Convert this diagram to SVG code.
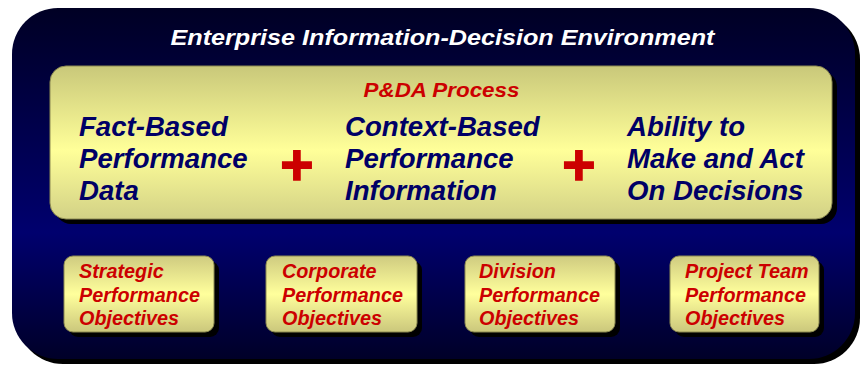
<svg xmlns="http://www.w3.org/2000/svg" width="867" height="366" viewBox="0 0 867 366">
  <defs>
    <linearGradient id="envFill" x1="0" y1="0" x2="0" y2="1">
      <stop offset="0" stop-color="#000024"/>
      <stop offset="0.64" stop-color="#00006e"/>
      <stop offset="1" stop-color="#000028"/>
    </linearGradient>
    <linearGradient id="padFill" x1="0" y1="0" x2="0" y2="1">
      <stop offset="0" stop-color="#c9c87a"/>
      <stop offset="0.55" stop-color="#ffff99"/>
      <stop offset="1" stop-color="#d2d186"/>
    </linearGradient>
    <linearGradient id="tagFill" x1="0" y1="0" x2="0" y2="1">
      <stop offset="0" stop-color="#cfcb80"/>
      <stop offset="0.5" stop-color="#ffff9c"/>
      <stop offset="1" stop-color="#cbc77c"/>
    </linearGradient>
  </defs>
  <style>
    .shadow { fill: #000000; }
    .pad { fill: url(#padFill); stroke: #8c8a52; stroke-width: 1; }
    .tag { fill: url(#tagFill); stroke: #8c8a52; stroke-width: 1; }
    text { font-family: "Liberation Sans", Arial, sans-serif; font-weight: bold; font-style: italic; }
    .title { fill: #ffffff; font-size: 22px; }
    .process { fill: #cc0000; font-size: 20px; }
    .main { fill: #000066; font-size: 27.6px; }
    .obj { fill: #cc0000; font-size: 19.8px; }
    .plus { fill: #cc0000; stroke: #cc0000; stroke-width: 1.4; font-size: 57px; font-style: normal; }
  </style>

  <!-- environment panel -->
  <g id="environment">
    <rect class="shadow" x="17" y="13" width="843" height="351" rx="46"/>
    <rect x="12" y="8" width="843" height="351" rx="46" fill="url(#envFill)"/>
    <text class="title" transform="translate(442.5 45) scale(1.145 1)" text-anchor="middle">Enterprise Information-Decision Environment</text>
  </g>

  <!-- process panel -->
  <g id="process">
    <rect class="shadow" x="55" y="71" width="782" height="153" rx="16"/>
    <rect class="pad" x="50" y="66" width="782" height="153" rx="16"/>
    <text class="process" transform="translate(441.5 97) scale(1.12 1)" text-anchor="middle">P&amp;DA Process</text>
  </g>

  <g id="fact-data">
    <text class="main" x="79" y="136">Fact-Based</text>
    <text class="main" x="79" y="168">Performance</text>
    <text class="main" x="79" y="200">Data</text>
  </g>

  <g id="context-info">
    <text class="main" x="345" y="136">Context-Based</text>
    <text class="main" x="345" y="168">Performance</text>
    <text class="main" x="345" y="200">Information</text>
  </g>

  <g id="act-decisions">
    <text class="main" x="627" y="136">Ability to</text>
    <text class="main" x="627" y="168">Make and Act</text>
    <text class="main" x="627" y="200">On Decisions</text>
  </g>

  <!-- plus operators between the three capabilities -->
  <g id="connectors">
    <text class="plus" x="297" y="185" text-anchor="middle">+</text>
    <text class="plus" x="579" y="185" text-anchor="middle">+</text>
  </g>

  <!-- objective levels -->
  <g id="strategic">
    <rect class="shadow" x="69" y="261" width="150" height="76" rx="9"/>
    <rect class="tag" x="64" y="256" width="150" height="76" rx="9"/>
    <text class="obj" x="79" y="277.5">Strategic</text>
    <text class="obj" x="79" y="301.5">Performance</text>
    <text class="obj" x="79" y="325">Objectives</text>
  </g>

  <g id="corporate">
    <rect class="shadow" x="271" y="261" width="151" height="76" rx="9"/>
    <rect class="tag" x="266" y="256" width="151" height="76" rx="9"/>
    <text class="obj" x="282" y="277.5">Corporate</text>
    <text class="obj" x="282" y="301.5">Performance</text>
    <text class="obj" x="282" y="325">Objectives</text>
  </g>

  <g id="division">
    <rect class="shadow" x="470" y="261" width="150" height="76" rx="9"/>
    <rect class="tag" x="465" y="256" width="150" height="76" rx="9"/>
    <text class="obj" x="479" y="277.5">Division</text>
    <text class="obj" x="479" y="301.5">Performance</text>
    <text class="obj" x="479" y="325">Objectives</text>
  </g>

  <g id="project-team">
    <rect class="shadow" x="675" y="261" width="149" height="76" rx="9"/>
    <rect class="tag" x="670" y="256" width="149" height="76" rx="9"/>
    <text class="obj" x="685" y="277.5">Project Team</text>
    <text class="obj" x="685" y="301.5">Performance</text>
    <text class="obj" x="685" y="325">Objectives</text>
  </g>
</svg>
